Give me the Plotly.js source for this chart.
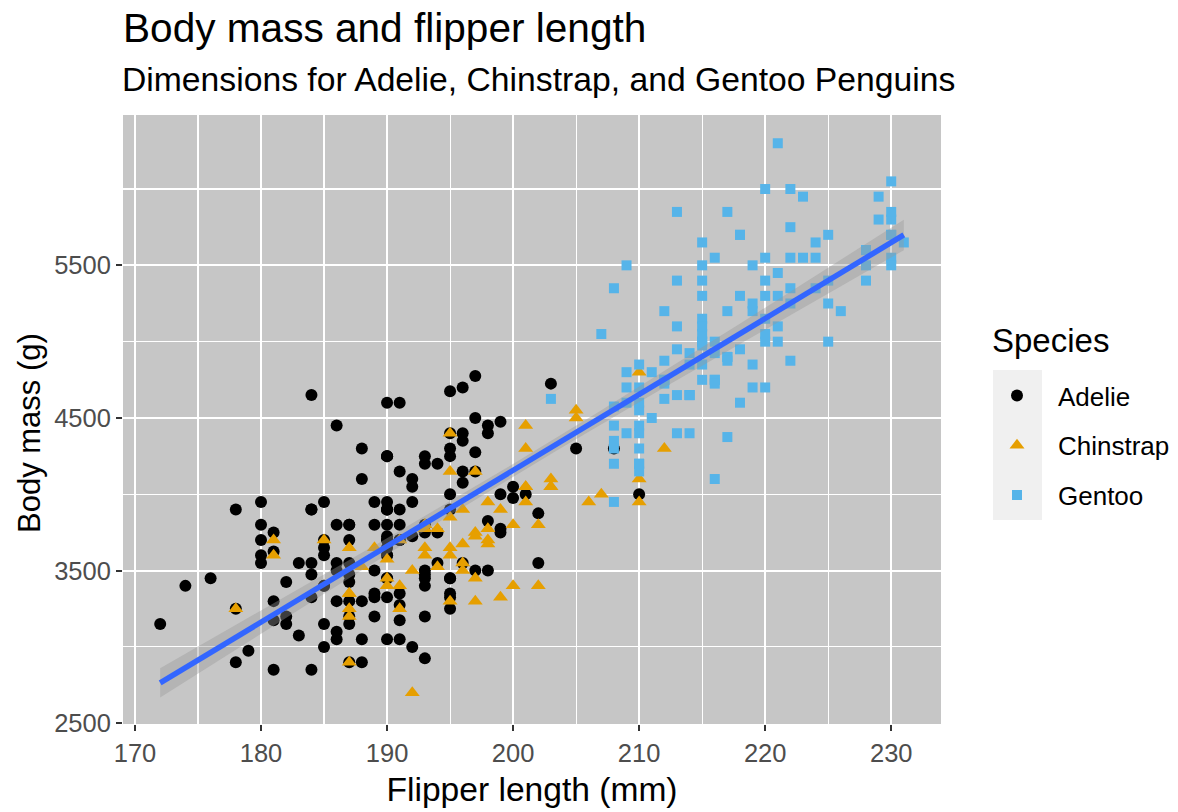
<!DOCTYPE html>
<html>
<head>
<meta charset="utf-8">
<script src="https://cdn.plot.ly/plotly-3.0.1.min.js"></script>
<style>html,body{margin:0;padding:0;background:#ffffff}#chart{width:1178px;height:812px}</style>
</head>
<body>
<div id="chart"></div>
<script>
// ---- Data (flipper length in mm, body mass in g) ----
const adelieFlipper = [
  181,186,195,193,190,181,195,193,190,
  186,180,182,191,198,185,195,197,184,194,
  174,180,189,185,180,187,183,187,172,180,
  178,178,188,184,195,196,190,180,181,184,
  182,195,186,196,185,190,182,179,190,191,
  186,188,190,200,187,191,186,193,181,194,
  185,195,185,192,184,192,195,188,190,198,
  190,190,196,197,190,195,191,184,187,195,
  189,196,187,193,191,194,190,189,189,190,
  202,205,185,186,187,208,190,196,178,192,
  192,203,183,190,193,184,199,190,181,197,
  198,191,193,197,191,196,188,199,189,189,
  187,198,176,202,186,199,191,195,191,210,
  190,197,193,199,187,190,191,200,185,193,
  193,187,188,190,192,185,190,184,195,193,
  187,201];
const adelieMass = [
  3750,3800,3250,3450,3650,3625,4675,3475,4250,
  3300,3700,3200,3800,4400,3700,3450,4500,3325,4200,
  3400,3600,3800,3950,3800,3800,3550,3200,3150,3950,
  3250,3900,3300,3900,3325,4150,3950,3550,3300,4650,
  3150,3900,3100,4400,3000,4600,3425,2975,3450,4150,
  3500,4300,3450,4050,2900,3700,3550,3800,2850,3750,
  3150,4400,3600,4050,2850,3950,3350,4100,3050,4450,
  3600,3900,3550,4150,3700,4250,3700,3900,3550,4000,
  3200,4700,3800,4200,3350,3550,3800,3500,3950,3600,
  3550,4300,3400,4450,3300,4300,3700,4350,2900,4100,
  3725,4725,3075,4250,2925,3550,3750,3900,3175,4775,
  3825,4600,3200,4275,3900,4075,2900,3775,3350,3325,
  3150,3500,3450,3875,3050,4000,3275,4300,3050,4000,
  3325,3500,3500,4475,3425,3900,3175,3975,3400,4250,
  3400,3475,3050,3725,3000,3650,4250,3475,3450,3750,
  3700,4000];

const chinstrapFlipper = [
  192,196,193,188,197,198,178,197,195,198,
  193,194,185,201,190,201,197,181,190,195,
  181,191,187,193,195,197,200,200,191,205,
  187,201,187,203,195,199,195,210,192,205,
  210,187,196,196,196,201,190,212,187,198,
  199,201,193,203,187,197,191,203,202,194,
  206,189,195,207,202,193,210,198];
const chinstrapMass = [
  3500,3900,3650,3525,3725,3950,3250,3750,4150,3700,
  3800,3775,3700,4050,3575,4050,3300,3700,3450,4400,
  3600,3400,2900,3800,3300,4150,3400,3800,3700,4550,
  3200,4300,3350,4100,3600,3900,3850,4800,2700,4500,
  3950,3650,3550,3500,3675,4450,3400,4300,3250,3675,
  3325,3950,3600,4050,3350,3450,3250,4050,3800,3525,
  3950,3650,3650,4000,3400,3775,4100,3775];

const gentooFlipper = [
  211,230,210,218,215,210,211,219,209,215,
  214,216,214,213,210,217,210,221,209,222,
  218,215,213,215,215,215,215,210,220,
  222,209,207,230,220,220,213,219,208,208,
  208,225,210,216,222,217,210,225,213,215,
  210,220,210,225,217,220,208,220,208,224,
  208,221,214,231,219,230,214,229,220,223,
  216,221,221,217,216,230,209,220,215,223,
  212,221,212,224,212,228,218,218,212,230,
  218,228,212,224,214,226,216,222,203,225,
  219,228,215,228,216,215,210,219,208,209,
  216,229,213,230,217,230,217,222,214,
  215,222,212,213];
const gentooMass = [
  4500,5700,4450,5700,5400,4550,4800,5200,4400,5150,
  4650,5550,4650,5850,4200,5850,4150,6300,4800,5350,
  5700,5000,4400,5050,5000,5100,5650,4600,5550,
  5250,4700,5050,6050,5150,5400,4950,5250,4350,5350,
  3950,5700,4300,4750,5550,4900,4200,5400,5100,5300,
  4850,5300,4400,5000,4900,5050,4300,5000,4450,5550,
  4200,5300,4400,5650,4700,5700,4650,5800,4700,5550,
  4750,5000,5100,5200,4100,5800,4600,6000,4750,5950,
  4625,5450,4725,5350,4750,5600,4600,5300,4875,5550,
  4950,5400,4750,5650,4850,5200,4925,4875,4625,5250,
  4850,5600,4975,5500,4725,5500,4700,5500,4575,5500,
  5000,5950,4650,5500,4375,5850,4875,6000,4925,
  4850,5750,5200,5400];

const speciesNames = ["Adelie", "Chinstrap", "Gentoo"];
const xTickVals = [170, 180, 190, 200, 210, 220, 230];
const yTickVals = [2500, 3500, 4500, 5500];

// ---- Linear fit with 95% confidence band (like geom_smooth(method = "lm")) ----
const allX = [].concat(adelieFlipper, chinstrapFlipper, gentooFlipper);
const allY = [].concat(adelieMass, chinstrapMass, gentooMass);
const n = allX.length;
const mx = allX.reduce((a, b) => a + b, 0) / n;
const my = allY.reduce((a, b) => a + b, 0) / n;
let sxx = 0, sxy = 0;
for (let i = 0; i < n; i++) { sxx += (allX[i] - mx) ** 2; sxy += (allX[i] - mx) * (allY[i] - my); }
const slope = sxy / sxx;
const intercept = my - slope * mx;
let sse = 0;
for (let i = 0; i < n; i++) { sse += (allY[i] - (intercept + slope * allX[i])) ** 2; }
const sigma = Math.sqrt(sse / (n - 2));
const tq = 1.967;
const xmin = Math.min(...allX), xmax = Math.max(...allX);
const gridX = [], fitY = [], loY = [], hiY = [];
for (let i = 0; i < 80; i++) {
  const x = xmin + i * (xmax - xmin) / 79;
  const yhat = intercept + slope * x;
  const se = sigma * Math.sqrt(1 / n + (x - mx) ** 2 / sxx);
  gridX.push(x); fitY.push(yhat); loY.push(yhat - tq * se); hiY.push(yhat + tq * se);
}

const FONT = "Liberation Sans, Arial, Helvetica, sans-serif";
// pixel helpers for paper coordinates of the plot area (l=123, w=818, bottom=724, h=609)
const px = v => (v - 123) / 818;
const py = v => (724 - v) / 609;

const traces = [
  { type: "scatter", mode: "markers", name: speciesNames[0], legendgroup: "a",
    x: adelieFlipper, y: adelieMass,
    marker: { color: "#000000", symbol: "circle", size: 12, line: { width: 0 } } },
  { type: "scatter", mode: "markers", name: speciesNames[1], legendgroup: "b",
    x: chinstrapFlipper, y: chinstrapMass,
    marker: { color: "#E69F00", symbol: "triangle-up", size: 13, line: { width: 0 } } },
  { type: "scatter", mode: "markers", name: speciesNames[2], legendgroup: "c",
    x: gentooFlipper, y: gentooMass,
    marker: { color: "#56B4E9", symbol: "square", size: 10, line: { width: 0 } } },
  { type: "scatter", mode: "lines", showlegend: false, hoverinfo: "skip",
    x: gridX.concat(gridX.slice().reverse()), y: hiY.concat(loY.slice().reverse()),
    fill: "toself", fillcolor: "rgba(153,153,153,0.4)", line: { width: 0, color: "rgba(0,0,0,0)" } },
  { type: "scatter", mode: "lines", showlegend: false,
    x: gridX, y: fitY, line: { color: "#3366FF", width: 5.5 } }
];

const layout = {
  width: 1178, height: 812,
  margin: { l: 123, r: 237, t: 115, b: 88, pad: 0, autoexpand: false },
  paper_bgcolor: "#FFFFFF",
  plot_bgcolor: "#C6C6C6",
  font: { family: FONT, color: "#000000" },
  title: { text: "Body mass and flipper length", x: 0, xref: "paper", xanchor: "left",
           y: 1 - 28 / 812, yref: "container", yanchor: "middle",
           font: { family: FONT, size: 40.6, color: "#000000" } },
  annotations: [
    { text: "Dimensions for Adelie, Chinstrap, and Gentoo Penguins", showarrow: false,
      xref: "paper", x: 0, xanchor: "left", xshift: -3, yref: "paper", y: py(79), yanchor: "middle",
      font: { family: FONT, size: 33.7, color: "#000000" } },
    { text: "Body mass (g)", showarrow: false, textangle: -90,
      xref: "paper", x: px(29), xanchor: "center", yref: "paper", y: py(433), yanchor: "middle",
      font: { family: FONT, size: 31, color: "#000000" } },
    { text: "Species", showarrow: false,
      xref: "paper", x: px(993), xanchor: "left", xshift: -3, yref: "paper", y: py(340), yanchor: "middle",
      font: { family: FONT, size: 33, color: "#000000" } }
  ],
  xaxis: {
    range: [169.05, 233.95], tickmode: "array", tickvals: xTickVals,
    showgrid: true, gridcolor: "#FFFFFF", gridwidth: 2.2, zeroline: false, showline: false,
    ticks: "outside", ticklen: 6, tickwidth: 2, tickcolor: "#333333",
    tickfont: { family: FONT, size: 25.5, color: "#4D4D4D" },
    minor: { dtick: 5, tick0: 165, showgrid: true, gridcolor: "#FFFFFF", gridwidth: 1.1, ticks: "" },
    title: { text: "Flipper length (mm)", font: { family: FONT, size: 33.6, color: "#000000" }, standoff: 11 }
  },
  yaxis: {
    range: [2495, 6485], tickmode: "array", tickvals: yTickVals,
    showgrid: true, gridcolor: "#FFFFFF", gridwidth: 2.2, zeroline: false, showline: false,
    ticks: "outside", ticklen: 6, tickwidth: 2, tickcolor: "#333333",
    tickfont: { family: FONT, size: 25.5, color: "#4D4D4D" },
    minor: { dtick: 500, tick0: 2000, showgrid: true, gridcolor: "#FFFFFF", gridwidth: 1.1, ticks: "" }
  },
  legend: {
    x: px(976), xanchor: "left", y: py(372), yanchor: "top",
    bgcolor: "rgba(0,0,0,0)", borderwidth: 0,
    font: { family: FONT, size: 26, color: "#000000" },
    traceorder: "grouped", tracegroupgap: 13, itemsizing: "trace", itemwidth: 72
  },
  shapes: [
    { type: "rect", xref: "paper", yref: "paper", layer: "below",
      x0: px(993), x1: px(1042), y0: py(520), y1: py(370),
      fillcolor: "#F0F0F0", line: { width: 0 } }
  ],
  showlegend: true
};

Plotly.newPlot("chart", traces, layout, { displayModeBar: false, staticPlot: true });
</script>
</body>
</html>
